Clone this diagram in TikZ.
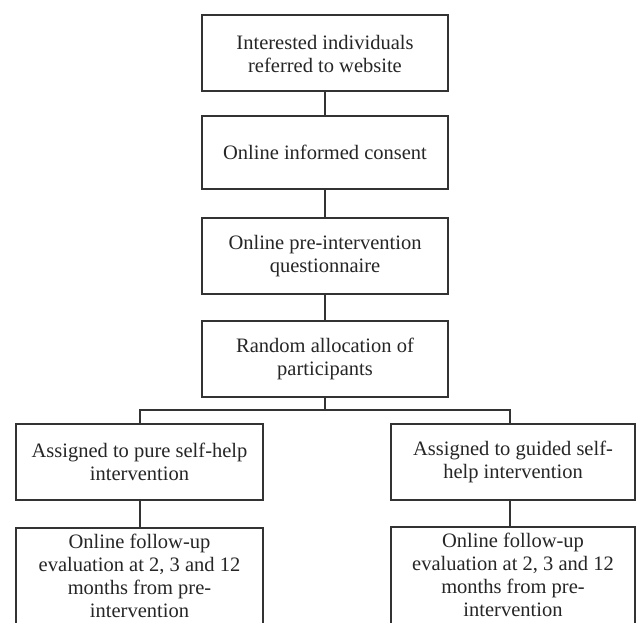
\documentclass[tikz,border=0pt]{standalone}
\usepackage{fontspec}
\setmainfont{Liberation Serif}
\usetikzlibrary{positioning}

\tikzset{caja/.style={rectangle,draw=black!80,line width=2pt,fill=white,text=black!85,
  minimum width=246pt,minimum height=76pt,align=center,inner sep=2pt,
  font=\fontsize{20.5}{23}\selectfont},
  linea/.style={draw=black!80,line width=2pt}}

\begin{document}
\begin{tikzpicture}[x=1pt,y=-1pt]
\useasboundingbox (0,0) rectangle (637,623);
\clip (0,0) rectangle (637,623);
\node[caja] (ii) at (325,53.5){Interested individuals\\referred to website};
\node[caja,minimum height=73pt] (oc) at (325,152.5){Online informed consent};
  \draw[linea] (ii) to (oc);
\node[caja] (pq) at (325,256){Online pre-intervention\\questionnaire};
  \draw[linea] (oc) to (pq);
\node[caja] (ra) at (325,359){Random allocation of\\participants};
  \draw[linea] (pq) to (ra);
 \coordinate (br) at (325,410);
  \draw[linea] (ra) to (br);
\node[caja,minimum width=247pt] (pa) at (139.5,462){Assigned to pure self-help\\intervention};
\node[caja,minimum width=244pt] (ga) at (513,462){Assigned to guided self-\\help intervention};
  \draw[linea] (br) -| (pa.north);
  \draw[linea] (br) -| ([xshift=-3pt]ga.north);
% seguimiento (cortado abajo)
\node[caja,minimum width=247pt,minimum height=0pt,inner ysep=6pt,anchor=north] (fa) at (139.5,527){Online follow-up\\evaluation at 2, 3 and 12\\months from pre-\\intervention\rule[-14pt]{0pt}{14pt}};
  \draw[linea] (pa) to (fa);
\node[caja,minimum width=244pt,minimum height=0pt,inner ysep=6pt,anchor=north] (fb) at (513,526){Online follow-up\\evaluation at 2, 3 and 12\\months from pre-\\intervention\rule[-14pt]{0pt}{14pt}};
  \draw[linea] ([xshift=-3pt]ga.south) to ([xshift=-3pt]fb.north);
\end{tikzpicture}
\end{document}
